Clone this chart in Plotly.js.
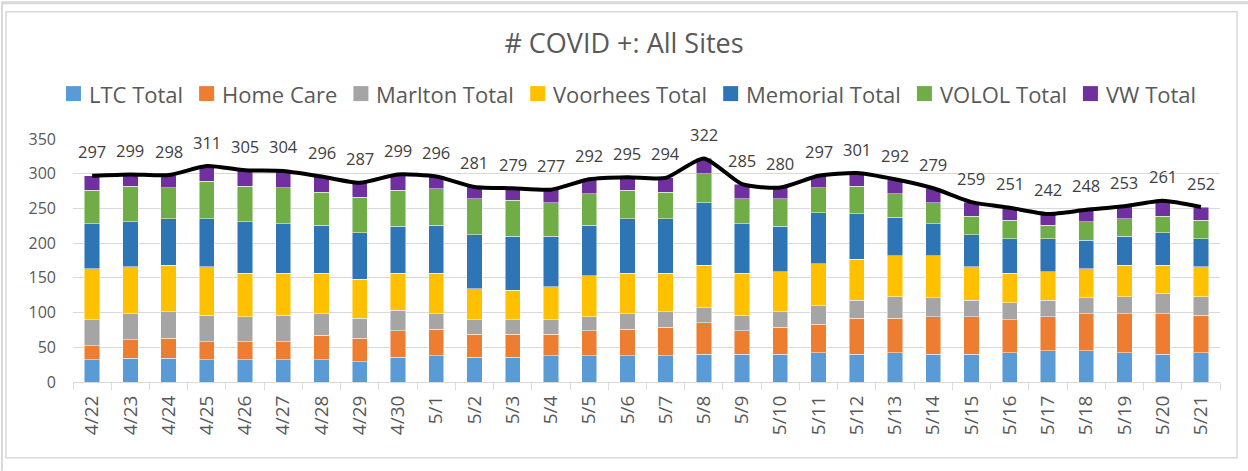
<!DOCTYPE html>
<html>
<head>
<meta charset="utf-8">
<script src="https://cdn.plot.ly/plotly-3.0.1.min.js"></script>
<style>
  html, body { margin: 0; padding: 0; background: #ffffff; }
  #chart { width: 1248px; height: 471px; }
</style>
</head>
<body>
<div id="chart"></div>
<script>
const dates = ["4/22","4/23","4/24","4/25","4/26","4/27","4/28","4/29","4/30","5/1","5/2","5/3","5/4","5/5","5/6","5/7","5/8","5/9","5/10","5/11","5/12","5/13","5/14","5/15","5/16","5/17","5/18","5/19","5/20","5/21"];

const ltcTotal      = [32,34,34,32,32,32,32,29,36,38,36,36,38,38,38,38,40,40,40,42,40,42,40,40,42,45,45,42,40,42];
const homeCare      = [20,27,29,26,26,26,35,34,38,38,33,33,31,36,38,41,45,34,39,41,52,50,54,54,48,49,53,56,58,54];
const marltonTotal  = [38,37,38,38,36,38,31,29,29,22,21,21,21,20,22,22,22,22,22,27,26,31,27,24,24,24,23,25,30,27];
const voorheesTotal = [73,68,67,70,63,61,59,56,54,59,44,42,47,59,59,56,61,61,58,60,59,59,61,48,43,41,42,45,40,43];
const memorialTotal = [65,65,67,69,74,71,69,67,67,69,78,78,73,73,78,78,90,71,65,74,65,55,46,46,49,47,41,42,47,40];
const vololTotal    = [48,51,45,54,51,52,47,51,52,52,52,52,48,45,41,38,42,36,40,36,40,34,30,27,27,20,27,25,24,27];
const vwTotal       = [21,17,18,22,23,24,23,21,23,18,17,17,19,21,19,21,22,21,16,17,19,21,21,20,18,16,17,18,22,19];
const allSites      = [297,299,298,311,305,304,296,287,299,296,281,279,277,292,295,294,322,285,280,297,301,292,279,259,251,242,248,253,261,252];

const seriesNames  = ["LTC Total","Home Care","Marlton Total","Voorhees Total","Memorial Total","VOLOL Total","VW Total"];
const seriesValues = [ltcTotal, homeCare, marltonTotal, voorheesTotal, memorialTotal, vololTotal, vwTotal];
const seriesColors = ["#5B9BD5","#ED7D31","#A5A5A5","#FFC000","#2E75B6","#70AD47","#7030A0"];

const textColor = "#595959";
const fontFamily = "'Open Sans', 'Liberation Sans', sans-serif";

// plot-area geometry (pixels)
const W = 1248, H = 471;
const mL = 73, mR = 28, mT = 138.5, mB = 89;
const pw = W - mL - mR, ph = H - mT - mB;
const px2x = p => (p - mL) / pw;
const py2y = p => (H - mB - p) / ph;

const traces = seriesNames.map((name, i) => ({
  type: "bar",
  name: name,
  x: dates,
  y: seriesValues[i],
  marker: { color: seriesColors[i], line: { color: "rgba(255,255,255,0.6)", width: 0.8 } },
  hoverinfo: "x+y+name",
  showlegend: false
}));

traces.push({
  type: "scatter",
  mode: "lines",
  name: "Total",
  x: dates,
  y: allSites,
  line: { color: "#000000", width: 4, shape: "spline", smoothing: 0.6 },
  showlegend: false,
  cliponaxis: false
});

const annotations = dates.map((d, i) => ({
  x: d, y: allSites[i], xref: "x", yref: "y",
  text: String(allSites[i]),
  showarrow: false,
  yshift: 24,
  font: { family: fontFamily, size: 16.5, color: "#404040" }
}));

// custom legend row (Excel style: small squares, tight spacing)
const legendFont = 22;
const canvas = document.createElement("canvas");
const ctx = canvas.getContext("2d");
ctx.font = legendFont + "px 'Open Sans'";
const sq = 15, gapIn = 6, gapOut = 18, legendY = 93;
const widths = seriesNames.map(n => ctx.measureText(n).width);
const totalW = widths.reduce((a, w) => a + sq + gapIn + w, 0) + gapOut * (seriesNames.length - 1);
let cx = 630 - totalW / 2;
const shapes = [];
seriesNames.forEach((n, i) => {
  shapes.push({
    type: "rect", xref: "paper", yref: "paper",
    x0: px2x(cx), x1: px2x(cx + sq), y0: py2y(legendY + sq / 2), y1: py2y(legendY - sq / 2),
    line: { width: 0 }, fillcolor: seriesColors[i]
  });
  annotations.push({
    xref: "paper", yref: "paper", x: px2x(cx + sq + gapIn), y: py2y(legendY),
    xanchor: "left", yanchor: "middle", showarrow: false, text: n,
    font: { family: fontFamily, size: legendFont, color: textColor }
  });
  cx += sq + gapIn + widths[i] + gapOut;
});

// chart frame
shapes.push(
  { type: "rect", xref: "paper", yref: "paper", layer: "below",
    x0: px2x(6), x1: px2x(1237), y0: py2y(458), y1: py2y(11),
    line: { color: "#d9d9d9", width: 1.5 }, fillcolor: "rgba(0,0,0,0)" },
  { type: "line", xref: "paper", yref: "paper", layer: "below",
    x0: px2x(1), x1: px2x(1248), y0: py2y(2), y1: py2y(2),
    line: { color: "#d9d9d9", width: 3 } },
  { type: "line", xref: "paper", yref: "paper", layer: "below",
    x0: px2x(2), x1: px2x(2), y0: py2y(471), y1: py2y(2),
    line: { color: "#d9d9d9", width: 2 } }
);

const layout = {
  width: W,
  height: H,
  paper_bgcolor: "#ffffff",
  plot_bgcolor: "#ffffff",
  font: { family: fontFamily, color: textColor },
  margin: { l: mL, r: mR, t: mT, b: mB, pad: 0 },
  barmode: "stack",
  bargap: 0.6,
  showlegend: false,
  title: {
    text: "# COVID +: All Sites",
    x: 0.5, xanchor: "center",
    y: 1 - 44 / H, yanchor: "middle", yref: "container",
    font: { family: fontFamily, size: 27, color: textColor }
  },
  xaxis: {
    type: "category",
    tickangle: -90,
    tickfont: { family: fontFamily, size: 19, color: textColor },
    showgrid: false,
    showline: true,
    linecolor: "#d9d9d9",
    linewidth: 1,
    ticks: "outside",
    tickson: "boundaries",
    ticklen: 7,
    tickcolor: "#d9d9d9",
    ticklabelstandoff: 5,
    fixedrange: true
  },
  yaxis: {
    range: [0, 350],
    dtick: 50,
    tick0: 0,
    showgrid: true,
    gridcolor: "#d9d9d9",
    gridwidth: 1,
    zeroline: false,
    showline: false,
    ticks: "",
    ticklabelstandoff: 16,
    tickfont: { family: fontFamily, size: 16, color: textColor },
    fixedrange: true
  },
  annotations: annotations,
  shapes: shapes
};

Plotly.newPlot("chart", traces, layout, { displayModeBar: false, staticPlot: true });
</script>
</body>
</html>
